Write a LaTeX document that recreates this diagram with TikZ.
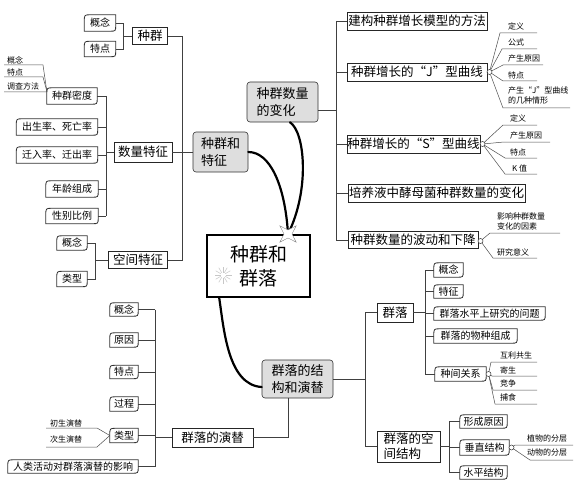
\documentclass[tikz,border=0pt]{standalone}
\usepackage{fontspec}
\setmainfont{Noto Sans CJK SC}
\usetikzlibrary{shapes.geometric,calc}
\newcommand\mmleaf[5]{%
 \node[leafnode,minimum width=#3,minimum height=#4] (#1) at (#2) {#5};
 \draw[leafline] (#1.north east) -- ([xshift=6pt]#1.north west) .. controls (#1.north west) .. ([yshift=-7pt]#1.north west) -- (#1.south west) -- ([xshift=-6pt]#1.south east) .. controls (#1.south east) .. ([yshift=6pt]#1.south east) -- cycle;}
\newcommand\fanitem[6]{%
 \node[sm] (#2) at (#3) {#4};
 \coordinate (#2s) at (#5); \coordinate (#2e) at (#6);
 \draw[ul] (#1) -- (#2s) -- (#2e);}
\begin{document}
\begin{tikzpicture}[x=1pt,y=-1pt,
 conn/.style={draw=black!75,line width=0.6pt},
 box/.style={draw=black!85,line width=0.9pt,fill=white,inner sep=0pt,font=\fontsize{12.5}{15}\selectfont,align=center},
 gbox/.style={draw=black!80,line width=0.6pt,fill=black!13,rounded corners=3pt,inner sep=0pt,font=\fontsize{13}{17}\selectfont,align=left},
 cbox/.style={draw=black,line width=1.6pt,fill=white,inner sep=0pt,font=\fontsize{19}{24}\selectfont,align=center},
 leafnode/.style={inner sep=0pt,font=\fontsize{10}{12}\selectfont},
 leafline/.style={draw=black!80,line width=0.8pt},
 sm/.style={inner sep=0pt,anchor=west,font=\fontsize{8}{10}\selectfont,align=left},
 ul/.style={draw=black!70,line width=0.5pt},
 stroke/.style={line width=2.2pt,black,line cap=round},
 dotc/.style={circle,draw=black!80,fill=white,inner sep=0pt,minimum size=5pt,line width=0.5pt}
]
\useasboundingbox (0,0) rectangle (580,484);

% ---------- top-left: 种群 ----------
\mmleaf{gnA}{100,23}{31pt}{16pt}{概念}
\mmleaf{tdA}{100,49}{31pt}{15pt}{特点}
\node[box,minimum width=35pt,minimum height=17pt] (zq) at (150,36) {种群};
\coordinate (b1) at (123,36);
\draw[conn] (gnA.east) -- (gnA.east -| b1) -- (tdA.east -| b1) -- (tdA.east);
\draw[conn] (b1) -- (zq.west);

\node[box,minimum width=58pt,minimum height=20pt] (slz) at (143,152) {数量特征};
\node[box,minimum width=59pt,minimum height=17pt] (kjtz) at (138,260) {空间特征};
\mmleaf{md}{72,96}{50pt}{16pt}{种群密度}
\mmleaf{cs}{57,127}{81pt}{16pt}{出生率、死亡率}
\mmleaf{qr}{57,155}{81pt}{16pt}{迁入率、迁出率}
\mmleaf{nl}{72,189}{52pt}{16pt}{年龄组成}
\mmleaf{xb}{72,216}{52pt}{15pt}{性别比例}
\mmleaf{gnB}{72,243}{30pt}{14pt}{概念}
\mmleaf{lxB}{72,279}{30pt}{15pt}{类型}

\coordinate (b3) at (106,152);
\draw[conn] (md.east -| b3) -- (xb.east -| b3);
\foreach \n in {md,cs,qr,nl,xb} \draw[conn] (\n.east) -- (\n.east -| b3);
\draw[conn] (b3) -- (slz.west);

\coordinate (b4) at (95,260);
\draw[conn] (gnB.east) -- (gnB.east -| b4) -- (lxB.east -| b4) -- (lxB.east);
\draw[conn] (b4) -- (kjtz.west);

\fanitem{[yshift=5pt]md.west}{ma}{7,60}{概念}{43,65}{4,65}
\fanitem{[yshift=5pt]md.west}{mb}{7,72}{特点}{43,77}{4,77}
\fanitem{[yshift=5pt]md.west}{mc}{7,86}{调查方法}{47,92}{4,92}

\node[gbox,minimum width=55pt,minimum height=40pt] (zqtz) at (220.5,152) {种群和\\特征};
\coordinate (b2) at (182,152);
\draw[conn] (zq.east) -- (zq.east -| b2) -- (kjtz.east -| b2) -- (kjtz.east);
\draw[conn] (slz.east) -- (zqtz.west);

% ---------- top-right: 种群数量的变化 ----------
\node[gbox,minimum width=71pt,minimum height=40pt] (zqsl) at (282.5,102) {种群数量\\的变化};
\node[box,minimum width=140pt,minimum height=18pt] (r1) at (417,21) {建构种群增长模型的方法};
\node[box,minimum width=140pt,minimum height=18pt] (r2) at (417,72) {种群增长的“J”型曲线};
\node[box,minimum width=133pt,minimum height=18pt] (r3) at (413.5,144) {种群增长的“S”型曲线};
\node[box,minimum width=177pt,minimum height=18pt] (r4) at (436.5,193) {培养液中酵母菌种群数量的变化};
\node[box,minimum width=130pt,minimum height=17pt] (r5) at (413,240) {种群数量的波动和下降};
\coordinate (b5) at (336,110);
\draw[conn] ([yshift=-8pt]zqsl.east) -- (b5);
\draw[conn] (r1.west -| b5) -- (r5.west -| b5);
\foreach \n in {r1,r2,r3,r4,r5} \draw[conn] (\n.west -| b5) -- (\n.west);

\node[dotc] (c1) at (489.5,72) {};
\draw[conn] (r2.east) -- (c1);
\fanitem{c1}{ja}{508,26}{定义}{500,33}{537,33}
\fanitem{c1}{jb}{508,42}{公式}{502,49}{537,49}
\fanitem{c1}{jc}{508,58}{产生原因}{503,65}{543,65}
\fanitem{c1}{jd}{508,75}{特点}{503,81}{537,81}
\fanitem{c1}{je}{508,95}{产生“J”型曲线\\的几种情形}{503,108}{570,108}

\node[dotc] (c2) at (482.5,144) {};
\draw[conn] (r3.east) -- (c2);
\fanitem{c2}{sa}{510,118}{定义}{503,125}{537,125}
\fanitem{c2}{sb}{510,135}{产生原因}{504,142}{550,142}
\fanitem{c2}{sc}{510,152}{特点}{505,158}{537,158}
\fanitem{c2}{sd}{512,168}{K 值}{505,174}{537,174}

\node[dotc] (c3) at (480.5,241) {};
\draw[conn] (r5.east) -- (c3);
\fanitem{c3}{ba}{497,221}{影响种群数量\\变化的因素}{490,233}{560,233}
\fanitem{c3}{bb}{497,252}{研究意义}{493,258}{537,258}

% ---------- centre ----------
\node[cbox,minimum width=103pt,minimum height=62pt] (zqql) at (258.5,266) {种群和\\群落};
\coordinate (sb) at (223,275);
\foreach \a in {0,30,...,330} \draw[black!22,line width=0.5pt] (sb) ++(\a:2.5pt) -- ++(\a:6pt);
\node[gbox,minimum width=71pt,minimum height=38pt] (jgyt) at (297.5,379) {群落的结\\构和演替};

\coordinate (stp) at (288,234);
\draw[stroke] (zqtz.east) .. controls (270,152) and (285,185) .. (stp);
\draw[stroke] ([xshift=7.5pt]zqsl.south) .. controls (305,132) and (310,190) .. (stp);
\draw[stroke] ([xshift=13pt]zqql.south west) .. controls (224,330) and (228,385) .. ([yshift=-8pt]jgyt.west);
\node[star,star points=4,star point ratio=0.35,fill=white,draw=black!50,line width=0.4pt,minimum size=8pt,inner sep=0pt] (st) at (stp) {};

% ---------- bottom-right: 群落 ----------
\node[box,minimum width=36pt,minimum height=19pt] (ql) at (395,312.5) {群落};
\node[box,minimum width=63pt,minimum height=31pt,align=left] (qlkj) at (408.5,446.5) {群落的空\\间结构};
\coordinate (b6) at (365,379);
\draw[conn] (jgyt.east) -- (b6);
\draw[conn] (ql.west -| b6) -- (qlkj.west -| b6);
\draw[conn] (ql.west -| b6) -- (ql.west);
\draw[conn] (qlkj.west -| b6) -- (qlkj.west);

\mmleaf{gnC}{448.5,270}{29pt}{14pt}{概念}
\mmleaf{tzC}{448.5,291.5}{29pt}{13pt}{特征}
\mmleaf{wtC}{489.5,313.5}{111pt}{13pt}{群落水平上研究的问题}
\mmleaf{zcC}{475.5,336}{83pt}{14pt}{群落的物种组成}
\mmleaf{zjC}{460.5,374}{51pt}{14pt}{种间关系}
\coordinate (b7) at (425,312.5);
\draw[conn] (ql.east) -- (b7);
\draw[conn] (gnC.west -| b7) -- (zjC.west -| b7);
\foreach \n in {gnC,tzC,wtC,zcC,zjC} \draw[conn] (\n.west -| b7) -- (\n.west);

\node[dotc] (c4) at (488.5,374) {};
\fanitem{c4}{ha}{500,355}{互利共生}{491,362}{537,362}
\fanitem{c4}{hb}{500,370}{寄生}{492,376}{537,376}
\fanitem{c4}{hc}{500,383}{竞争}{493,390}{537,390}
\fanitem{c4}{hd}{500,397}{捕食}{495,404}{537,404}

\mmleaf{xcD}{483.5,421.5}{47pt}{13pt}{形成原因}
\mmleaf{czD}{484.5,447.5}{49pt}{15pt}{垂直结构}
\mmleaf{spD}{483.5,472.5}{47pt}{13pt}{水平结构}
\coordinate (b8) at (449,446.5);
\draw[conn] (qlkj.east) -- (b8);
\draw[conn] (xcD.west -| b8) -- (spD.west -| b8);
\foreach \n in {xcD,czD,spD} \draw[conn] (\n.west -| b8) -- (\n.west);

\node[dotc] (c5) at (511.5,447.5) {};
\fanitem{c5}{va}{527,438}{植物的分层}{515,445}{573,445}
\fanitem{c5}{vb}{527,452}{动物的分层}{530,460}{573,460}

% ---------- bottom-left: 群落的演替 ----------
\node[box,minimum width=81pt,minimum height=19pt] (qlyt) at (212.5,437.5) {群落的演替};
\draw[conn] ([xshift=-9.5pt]jgyt.south) |- (qlyt.east);
\mmleaf{gnE}{124,309.5}{28pt}{13pt}{概念}
\mmleaf{yyE}{124,340}{28pt}{14pt}{原因}
\mmleaf{tdE}{124,372}{28pt}{13pt}{特点}
\mmleaf{gcE}{124,404}{28pt}{14pt}{过程}
\mmleaf{lxE}{124,435.5}{28pt}{14pt}{类型}
\mmleaf{rlE}{73,466.5}{130pt}{13pt}{人类活动对群落演替的影响}
\coordinate (b9) at (155,437.5);
\draw[conn] (qlyt.west) -- (b9);
\draw[conn] (gnE.east -| b9) -- (rlE.east -| b9);
\foreach \n in {gnE,yyE,tdE,gcE,lxE,rlE} \draw[conn] (\n.east) -- (\n.east -| b9);

\fanitem{lxE.west}{ya}{50,423}{初生演替}{97,428}{46,428}
\fanitem{lxE.west}{yb}{50,439}{次生演替}{97,447}{46,447}
\end{tikzpicture}
\end{document}
